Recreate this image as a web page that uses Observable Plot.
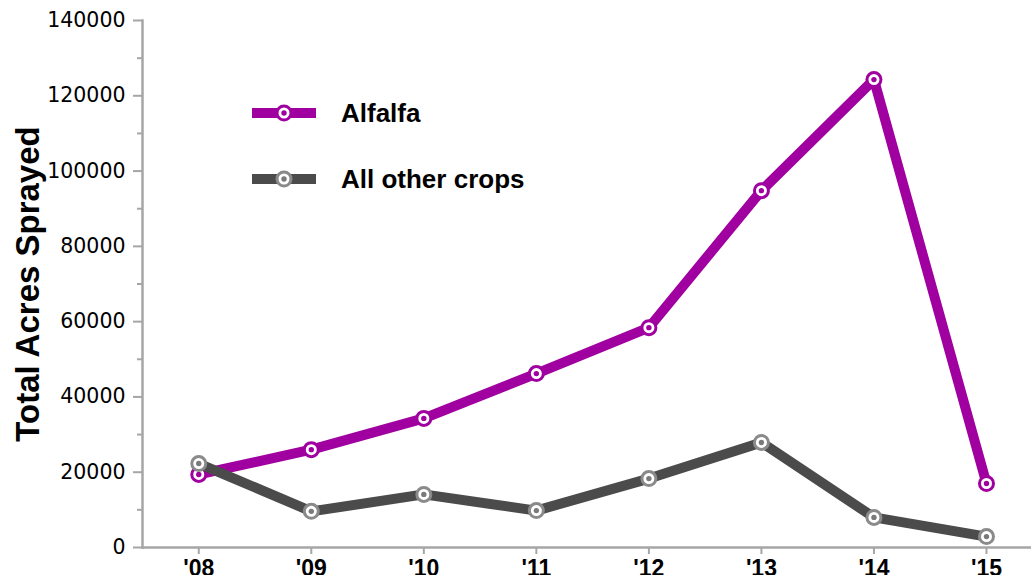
<!DOCTYPE html>
<html>
<head>
<meta charset="utf-8">
<script src="https://cdn.jsdelivr.net/npm/d3@7"></script>
<script src="https://cdn.jsdelivr.net/npm/@observablehq/plot@0.6"></script>
<style>
  html, body { margin: 0; padding: 0; background: #fff; }
  #wrap { position: relative; width: 1031px; height: 575px; overflow: hidden; }
  #legend { position: absolute; left: 252px; top: 92px; font-family: "Liberation Sans", Arial, sans-serif; font-weight: bold; font-size: 26px; color: #000; }
  .item { display: flex; align-items: center; height: 42px; margin-bottom: 24px; }
  .item svg { margin-right: 25px; }
</style>
</head>
<body>
<div id="wrap">
  <div id="chart"></div>
  <div id="legend"></div>
</div>
<script>
const years = [2008, 2009, 2010, 2011, 2012, 2013, 2014, 2015];
const alfalfa = [19400, 26000, 34300, 46200, 58400, 94800, 124300, 17000];
const otherCrops = [22300, 9600, 14100, 9800, 18300, 27900, 8000, 2900];
const seriesNames = ["Alfalfa", "All other crops"];
const yMajorTicks = [0, 20000, 40000, 60000, 80000, 100000, 120000, 140000];
const yMinorTicks = [10000, 30000, 50000, 70000, 90000, 110000, 130000];
const yTitle = "Total Acres Sprayed";

const colors = {
  "Alfalfa": {line: "#a000a0", ring: "#a000a0", center: "#a000a0"},
  "All other crops": {line: "#4b4b4b", ring: "#8a8a8a", center: "#7a7a7a"}
};

const dataA = years.map((y, i) => ({year: y, value: alfalfa[i]}));
const dataO = years.map((y, i) => ({year: y, value: otherCrops[i]}));

function seriesMarks(data, c) {
  return [
    Plot.line(data, {x: "year", y: "value", stroke: c.line, strokeWidth: 10, strokeLinejoin: "round"}),
    Plot.dot(data, {x: "year", y: "value", r: 7, fill: "white", stroke: c.ring, strokeWidth: 3}),
    Plot.dot(data, {x: "year", y: "value", r: 2.7, fill: c.center, stroke: "none"})
  ];
}

const plot = Plot.plot({
  width: 1031,
  height: 575,
  marginLeft: 142,
  marginRight: 0,
  marginTop: 20,
  marginBottom: 28,
  x: {type: "linear", domain: [2007.5, 2015.4]},
  y: {domain: [0, 140000]},
  marks: [
    Plot.axisY({ticks: yMajorTicks, tickSize: 9, tickPadding: 8, stroke: "#a6a6a6", strokeWidth: 2,
      fontSize: 20.5, fontFamily: "DejaVu Sans", fill: "#000", label: null, tickFormat: d => String(d)}),
    Plot.axisY({ticks: yMinorTicks, tickSize: 5, stroke: "#a6a6a6", strokeWidth: 2, text: null, label: null}),
    Plot.axisX({ticks: years, tickSize: 7, tickPadding: 5, stroke: "#a6a6a6", strokeWidth: 2,
      fontSize: 23, fontWeight: "bold", fontFamily: "Liberation Sans", fill: "#000", label: null,
      tickFormat: d => "'" + String(d).slice(2)}),
    Plot.frame({anchor: "left", stroke: "#a6a6a6", strokeWidth: 2.5}),
    Plot.frame({anchor: "bottom", stroke: "#a6a6a6", strokeWidth: 2.5}),
    Plot.text([yTitle], {frameAnchor: "left", dx: -114, rotate: -90, textAnchor: "middle",
      fontSize: 33, fontWeight: "bold", fontFamily: "Liberation Sans", fill: "#000"}),
    ...seriesMarks(dataA, colors["Alfalfa"]),
    ...seriesMarks(dataO, colors["All other crops"])
  ]
});
document.getElementById("chart").appendChild(plot);

// Legend
const legend = document.getElementById("legend");
seriesNames.forEach(name => {
  const c = colors[name];
  const item = document.createElement("div");
  item.className = "item";
  const sw = d3.create("svg").attr("width", 64).attr("height", 22);
  sw.append("rect").attr("x", 0).attr("y", 6).attr("width", 64).attr("height", 10).attr("fill", c.line);
  sw.append("circle").attr("cx", 32).attr("cy", 11).attr("r", 7).attr("fill", "white").attr("stroke", c.ring).attr("stroke-width", 3);
  sw.append("circle").attr("cx", 32).attr("cy", 11).attr("r", 2.7).attr("fill", c.center);
  item.appendChild(sw.node());
  const t = document.createElement("span");
  t.textContent = name;
  item.appendChild(t);
  legend.appendChild(item);
});
</script>
</body>
</html>
